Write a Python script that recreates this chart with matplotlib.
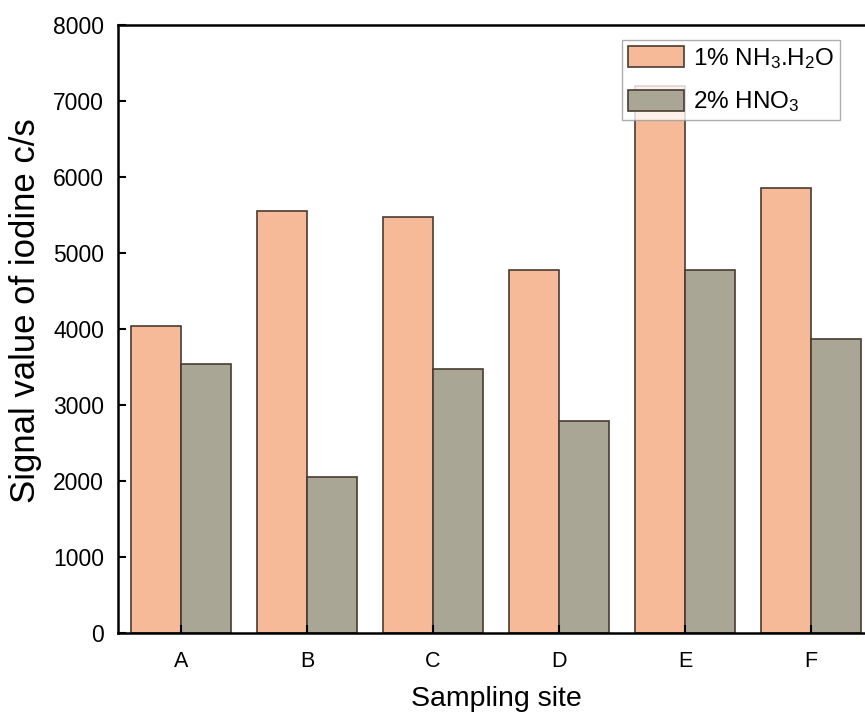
import matplotlib
matplotlib.use("Agg")
import matplotlib.pyplot as plt
import numpy as np

plt.rcParams['font.family'] = ['Liberation Sans', 'DejaVu Sans']
plt.rcParams['mathtext.fontset'] = 'custom'
plt.rcParams['mathtext.rm'] = 'Liberation Sans'
plt.rcParams['mathtext.it'] = 'Liberation Sans'

sites = ['A', 'B', 'C', 'D', 'E', 'F']
nh3 = [4040, 5550, 5470, 4780, 7200, 5860]
hno3 = [3540, 2050, 3470, 2790, 4780, 3870]
labels = [r'1% NH$_3$.H$_2$O', r'2% HNO$_3$']
yticks = [0, 1000, 2000, 3000, 4000, 5000, 6000, 7000, 8000]

fig = plt.figure(figsize=(8.65, 7.17), dpi=100)
ax = fig.add_axes([118/865, 84/717, 756/865, 608/717])

x = np.arange(1, len(sites) + 1)
w = 0.4
ec = '#4a3b32'
ax.bar(x - w/2, nh3, w, color='#F7BA98', edgecolor=ec, linewidth=1.2, label=labels[0])
ax.bar(x + w/2, hno3, w, color='#A9A696', edgecolor=ec, linewidth=1.2, label=labels[1])

ax.set_xlim(0.5, 6.5)
ax.set_ylim(0, 8000)
ax.set_xticks(x)
ax.set_xticklabels(sites)
ax.set_yticks(yticks)
ax.tick_params(direction='in', length=6, width=1.5)
ax.tick_params(axis='y', labelsize=16.5, pad=10)
ax.tick_params(axis='x', labelsize=15.5, pad=13)
for s in ax.spines.values():
    s.set_linewidth(1.8)

ax.set_ylabel('Signal value of iodine c/s', fontsize=25)
ax.yaxis.set_label_coords(-0.101, 0.53)
ax.set_xlabel('Sampling site', fontsize=20.5, labelpad=10)

leg = ax.legend(loc='upper right', bbox_to_anchor=(0.955, 0.975), borderaxespad=0,
                fontsize=17.5, frameon=True, fancybox=False, edgecolor='#999999',
                handlelength=2.3, handleheight=0.95, handletextpad=0.35,
                borderpad=0.25, labelspacing=0.75)
leg.get_frame().set_linewidth(1.0)

fig.savefig('out.png', dpi=100)
